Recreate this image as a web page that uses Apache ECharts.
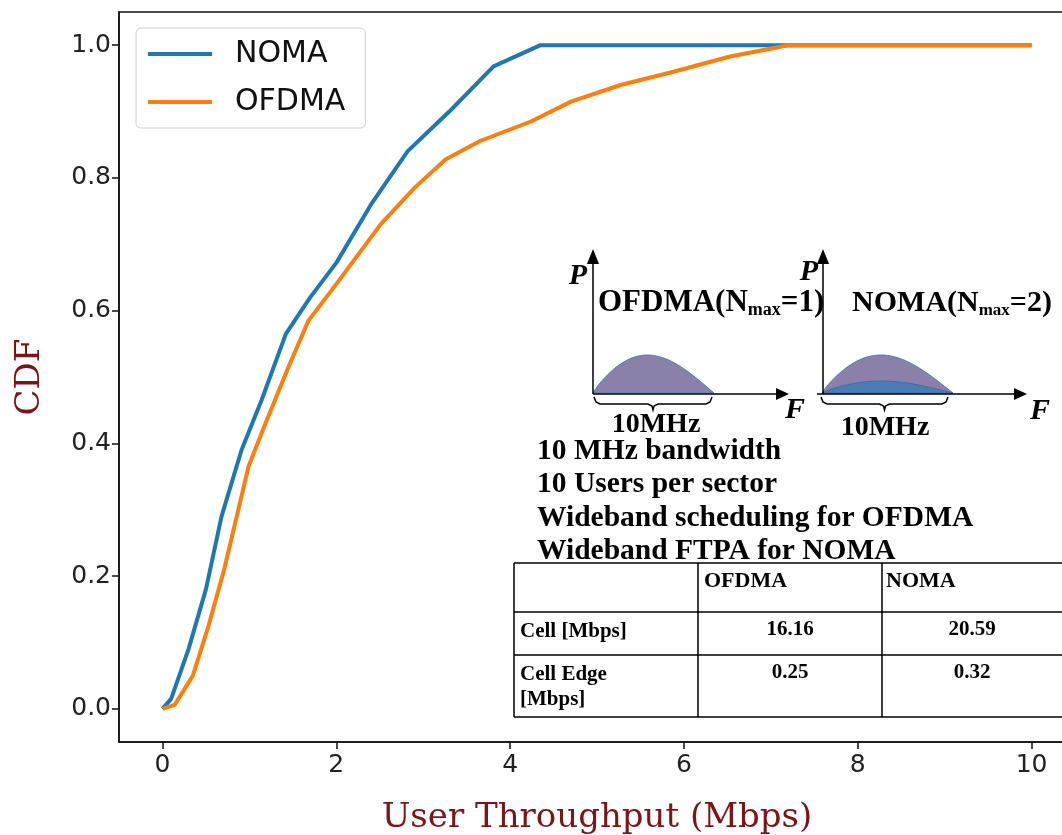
<!DOCTYPE html>
<html>
<head>
<meta charset="utf-8">
<script src="https://cdn.jsdelivr.net/npm/echarts@6/dist/echarts.min.js"></script>
<style>
html,body{margin:0;padding:0;background:#fff;}
#chart{width:1062px;height:835px;}
</style>
</head>
<body>
<div id="chart"></div>
<script>
// ---- Data ----
var nomaX = [0, 0.1, 0.3, 0.5, 0.68, 0.91, 1.14, 1.42, 1.7, 2.0, 2.4, 2.82, 3.3, 3.81, 4.35, 10];
var nomaY = [0, 0.015, 0.09, 0.18, 0.29, 0.39, 0.465, 0.565, 0.62, 0.672, 0.76, 0.84, 0.90, 0.968, 1.0, 1.0];
var ofdmaX = [0, 0.14, 0.35, 0.53, 0.71, 0.99, 1.17, 1.45, 1.68, 2.0, 2.51, 2.9, 3.26, 3.66, 4.24, 4.7, 5.27, 5.88, 6.53, 7.2, 10];
var ofdmaY = [0, 0.006, 0.05, 0.125, 0.21, 0.365, 0.425, 0.515, 0.585, 0.64, 0.73, 0.785, 0.828, 0.856, 0.885, 0.915, 0.94, 0.96, 0.983, 1.0, 1.0];
var xTicks = [0, 2, 4, 6, 8, 10];
var yTicks = [0, 0.2, 0.4, 0.6, 0.8, 1.0];
var seriesNames = ['NOMA', 'OFDMA'];
var notes = ['10 MHz bandwidth', '10 Users per sector', 'Wideband scheduling for OFDMA', 'Wideband FTPA for NOMA'];
var tableHeader = ['', 'OFDMA', 'NOMA'];
var tableRowLabels = ['Cell [Mbps]', 'Cell Edge\n[Mbps]'];
var tableOfdma = ['16.16', '0.25'];
var tableNoma = ['20.59', '0.32'];

function pairs(xs, ys) { return xs.map(function (x, i) { return [x, ys[i]]; }); }

// ---- Inset drawing helpers (decoration only) ----
function hump(x0, w, base, h) {
  var pts = [];
  var p = Math.log(0.5) / Math.log(0.45);
  for (var i = 0; i <= 40; i++) {
    var t = i / 40;
    pts.push([x0 + t * w, base - h * Math.sin(Math.PI * Math.pow(t, p))]);
  }
  return pts;
}
function brace(x0, x1, y0) {
  var m = (x0 + x1) / 2;
  return [[x0, y0], [x0 + 2, y0 + 5], [x0 + 6, y0 + 7], [m - 5, y0 + 7], [m - 1, y0 + 9], [m, y0 + 13], [m + 1, y0 + 9], [m + 5, y0 + 7], [x1 - 6, y0 + 7], [x1 - 2, y0 + 5], [x1, y0]];
}
var black = '#000';
var serif = '"Liberation Serif", "DejaVu Serif", serif';
var g = [];
function line(x1, y1, x2, y2, w) {
  g.push({ type: 'line', shape: { x1: x1, y1: y1, x2: x2, y2: y2 }, style: { stroke: black, lineWidth: w || 1.5 }, z: 100 });
}
function tri(points) {
  g.push({ type: 'polygon', shape: { points: points }, style: { fill: black }, z: 100 });
}
function txt(x, y, t, size, opts) {
  opts = opts || {};
  g.push({ type: 'text', x: x, y: y, z: 101, style: Object.assign({ text: t, font: (opts.italic ? 'italic ' : '') + 'bold ' + size + 'px ' + serif, fill: black, align: opts.align || 'left', verticalAlign: opts.va || 'middle' }, opts.extra || {}) });
}

// left diagram (OFDMA)
g.push({ type: 'polygon', shape: { points: hump(593, 121, 393, 38) }, style: { fill: '#8a80aa', stroke: '#4f7fb8', lineWidth: 1 }, z: 99 });
line(593, 394, 778, 394, 1.5); tri([[776, 388], [789, 394], [776, 400]]);
line(593, 394, 593, 262, 1.5); tri([[587, 264], [593, 249], [599, 264]]);
txt(578, 276, 'P', 30, { italic: true, align: 'center' });
txt(795, 410, 'F', 30, { italic: true, align: 'center' });
g.push({ type: 'polyline', shape: { points: brace(594, 712, 397) }, style: { stroke: black, lineWidth: 1.5, fill: null }, z: 100 });
txt(656, 425, '10MHz', 28, { align: 'center' });
g.push({ type: 'text', x: 598, y: 303, z: 101, style: { text: 'OFDMA(N{s|max}=1)', font: 'bold 31px ' + serif, fill: black, verticalAlign: 'middle', rich: { s: { font: 'bold 18px ' + serif, fill: black, verticalAlign: 'bottom', padding: [15, 0, 0, 0] } } } });

// right diagram (NOMA)
g.push({ type: 'polygon', shape: { points: hump(822, 131, 393, 38) }, style: { fill: '#8a80aa', stroke: '#4f7fb8', lineWidth: 1 }, z: 99 });
g.push({ type: 'polygon', shape: { points: hump(822, 131, 393, 12) }, style: { fill: '#4a7db6', stroke: '#3f6fa8', lineWidth: 1 }, z: 99 });
line(817, 394, 1016, 394, 1.5); tri([[1014, 388], [1027, 394], [1014, 400]]);
line(823, 394, 823, 262, 1.5); tri([[817, 264], [823, 249], [829, 264]]);
txt(809, 272, 'P', 30, { italic: true, align: 'center' });
txt(1040, 411, 'F', 30, { italic: true, align: 'center' });
g.push({ type: 'polyline', shape: { points: brace(821, 948, 397) }, style: { stroke: black, lineWidth: 1.5, fill: null }, z: 100 });
txt(885, 428, '10MHz', 28, { align: 'center' });
g.push({ type: 'text', x: 852, y: 303, z: 101, style: { text: 'NOMA(N{s|max}=2)', font: 'bold 30px ' + serif, fill: black, verticalAlign: 'middle', rich: { s: { font: 'bold 17px ' + serif, fill: black, verticalAlign: 'bottom', padding: [15, 0, 0, 0] } } } });

// notes
notes.forEach(function (n, i) { txt(537, 451 + i * 33.5, n, 29.5); });

// table
var tL = 514, tR = 1070, colX = [514, 698, 882], rowY = [563, 612, 655, 717];
g.push({ type: 'rect', shape: { x: tL, y: rowY[0], width: tR - tL, height: rowY[3] - rowY[0] }, style: { fill: '#fff', stroke: null }, z: 98 });
rowY.forEach(function (y) { line(tL, y, tR, y, 1.5); });
colX.forEach(function (x) { line(x, rowY[0], x, rowY[3], 1.5); });
txt(704, 581, tableHeader[1], 22);
txt(886, 581, tableHeader[2], 22);
tableRowLabels.forEach(function (r, i) {
  txt(520, rowY[i + 1] + 7, r, 21, { va: 'top', extra: { lineHeight: 25 } });
  txt(790, rowY[i + 1] + 7, tableOfdma[i], 21, { align: 'center', va: 'top' });
  txt(972, rowY[i + 1] + 7, tableNoma[i], 21, { align: 'center', va: 'top' });
});

var chart = echarts.init(document.getElementById('chart'), null, { renderer: 'canvas' });
chart.setOption({
  backgroundColor: '#fff',
  animation: false,
  grid: { left: 119, top: 12, right: -13, bottom: 93, outerBoundsMode: 'none', containLabel: false, show: true, borderColor: '#111', borderWidth: 1.5, backgroundColor: 'transparent' },
  legend: {
    left: 136, top: 28, orient: 'vertical', itemWidth: 64, itemHeight: 4, itemGap: 18, icon: 'rect',
    padding: [11, 20, 11, 12], borderColor: '#d0d0d0', borderWidth: 1, borderRadius: 5, backgroundColor: '#fff',
    textStyle: { fontSize: 30, fontFamily: '"DejaVu Sans", sans-serif', color: '#111', padding: [0, 0, 0, 18] },
    data: seriesNames
  },
  xAxis: {
    type: 'value', min: -0.5, max: 10.5,
    name: 'User Throughput (Mbps)', nameLocation: 'middle', nameGap: 59,
    nameTextStyle: { fontFamily: '"DejaVu Serif", serif', fontSize: 34, color: '#7d1416' },
    axisLine: { show: true, onZero: false, lineStyle: { color: '#111', width: 1.5 } },
    axisTick: { show: true, length: 7, lineStyle: { color: '#111', width: 1.5 }, customValues: xTicks },
    axisLabel: { customValues: xTicks, fontSize: 25, fontFamily: '"DejaVu Sans", sans-serif', color: '#222', margin: 11 },
    splitLine: { show: false }
  },
  yAxis: {
    type: 'value', min: -0.05, max: 1.05,
    name: 'CDF', nameLocation: 'middle', nameGap: 72, nameRotate: 90,
    nameTextStyle: { fontFamily: '"DejaVu Serif", serif', fontSize: 34, color: '#7d1416' },
    axisLine: { show: true, onZero: false, lineStyle: { color: '#111', width: 1.5 } },
    axisTick: { show: true, length: 7, lineStyle: { color: '#111', width: 1.5 }, customValues: yTicks },
    axisLabel: { customValues: yTicks, fontSize: 25, fontFamily: '"DejaVu Sans", sans-serif', color: '#222', margin: 8, formatter: function (v) { return v.toFixed(1); } },
    splitLine: { show: false }
  },
  series: [
    { name: seriesNames[0], type: 'line', data: pairs(nomaX, nomaY), symbol: 'none', lineStyle: { color: '#1f77b4', width: 4 }, itemStyle: { color: '#1f77b4' } },
    { name: seriesNames[1], type: 'line', data: pairs(ofdmaX, ofdmaY), symbol: 'none', lineStyle: { color: '#ff7f0e', width: 4 }, itemStyle: { color: '#ff7f0e' } }
  ],
  graphic: { elements: g }
});
</script>
</body>
</html>
